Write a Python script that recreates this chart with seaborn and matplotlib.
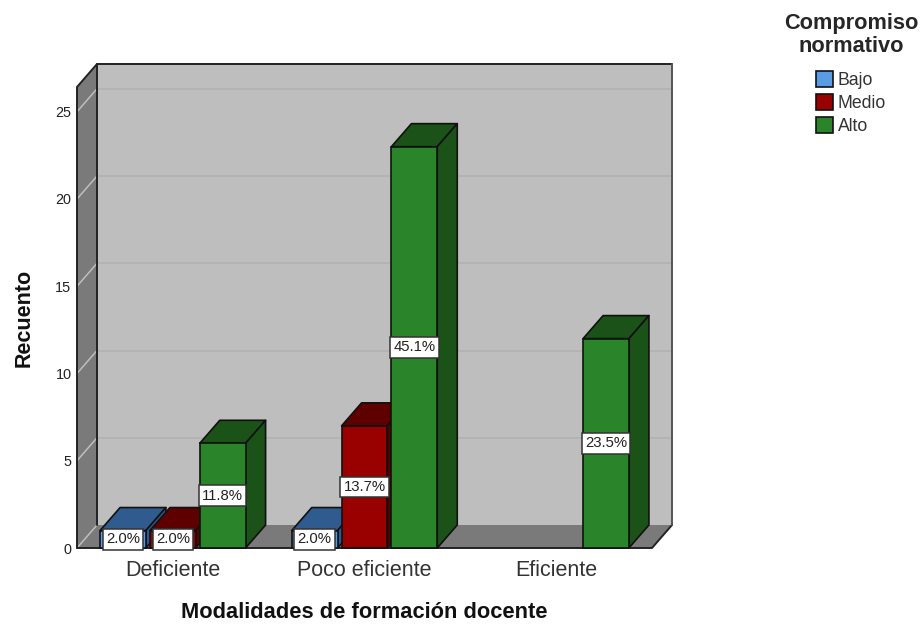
import matplotlib
matplotlib.use('Agg')
import matplotlib.pyplot as plt
import pandas as pd
import seaborn as sns
from matplotlib.patches import Polygon

# ============================================================
# DATA
# ============================================================
categories = ['Deficiente', 'Poco eficiente', 'Eficiente']
levels     = ['Bajo', 'Medio', 'Alto']

row_category = ['Deficiente', 'Deficiente', 'Deficiente',
                'Poco eficiente', 'Poco eficiente', 'Poco eficiente',
                'Eficiente']
row_level    = ['Bajo', 'Medio', 'Alto', 'Bajo', 'Medio', 'Alto', 'Alto']
row_count    = [1, 1, 6, 1, 7, 23, 12]
row_pct      = ['2.0%', '2.0%', '11.8%', '2.0%', '13.7%', '45.1%', '23.5%']

yticks = [0, 5, 10, 15, 20, 25]

front_colors = {'Bajo': '#5A9BE6', 'Medio': '#990000', 'Alto': '#2A852A'}
shade_colors = {'Bajo': '#2F5B8F', 'Medio': '#5E0000', 'Alto': '#1A5218'}

# ============================================================
# FIGURE
# ============================================================
sns.set_style('white')
plt.rcParams['font.family'] = ['Liberation Sans', 'DejaVu Sans']

W, H = 922, 624
fig = plt.figure(figsize=(W / 100, H / 100), dpi=100)
ax = fig.add_axes([77 / W, (H - 548) / H, 575 / W, 461 / H])
ax.patch.set_visible(False)

df = pd.DataFrame({'cat': row_category, 'level': row_level, 'count': row_count})
sns.barplot(data=df, x='cat', y='count', hue='level', order=categories,
            hue_order=levels, palette=front_colors, width=0.78, gap=0.08,
            edgecolor='#111111', linewidth=1.2, saturation=1, errorbar=None, ax=ax)

ax.set_xlim(-0.5, 2.5)
ax.set_ylim(0, 461 / 17.45)

# depth of the fake 3D, px converted to data units
DX = 20 / (575 / 3)
DY = 23 / 17.45
x0, x1 = -0.5, 2.5
ytop = 461 / 17.45


def poly(pts, fc, ec='none', lw=0, z=1):
    ax.add_patch(Polygon(pts, closed=True, facecolor=fc, edgecolor=ec, linewidth=lw,
                         zorder=z, clip_on=False, joinstyle='round'))


# walls and floor
poly([(x0 + DX, DY), (x1 + DX, DY), (x1 + DX, ytop + DY), (x0 + DX, ytop + DY)], '#BEBEBE')
poly([(x0, 0), (x0 + DX, DY), (x0 + DX, ytop + DY), (x0, ytop)], '#7A7A7A')
poly([(x0, 0), (x1, 0), (x1 + DX, DY), (x0 + DX, DY)], '#7A7A7A')

for t in yticks:
    ax.plot([x0, x0 + DX], [t, t + DY], color='#BEBEBE', lw=1.1, zorder=1.5, clip_on=False)
    if t > 0:
        ax.plot([x0 + DX, x1 + DX], [t + DY, t + DY], color='#B0B0B0', lw=1.1, zorder=1.5, clip_on=False)

edge = dict(color='#222222', lw=1.4, zorder=2, clip_on=False, solid_capstyle='round')
ax.plot([x0, x0, x0 + DX, x1 + DX], [0, ytop, ytop + DY, ytop + DY], **edge)
ax.plot([x0 + DX, x0 + DX], [DY, ytop + DY], **edge)
ax.plot([x0, x1, x1 + DX], [0, 0, DY], **edge)
ax.plot([x1 + DX, x1 + DX], [DY, ytop + DY], color='#555555', lw=1.4, zorder=2, clip_on=False)

# bar tops and sides, painted left to right so nearer bars overlap
bars = sorted([p for p in ax.patches if hasattr(p, 'get_width') and p.get_height() > 0],
              key=lambda p: p.get_x())
rows = sorted(zip(row_category, row_level, row_count, row_pct),
              key=lambda r: (categories.index(r[0]), levels.index(r[1])))
for i, (bar, row) in enumerate(zip(bars, rows)):
    z = 3 + i
    l, r, h = bar.get_x(), bar.get_x() + bar.get_width(), bar.get_height()
    bar.set_zorder(z + 0.5)
    bar.set_clip_on(False)
    shade = shade_colors[row[1]]
    poly([(l, h), (r, h), (r + DX, h + DY), (l + DX, h + DY)], shade, '#111111', 1.2, z)
    poly([(r, 0), (r + DX, DY), (r + DX, h + DY), (r, h)], shade, '#111111', 1.2, z)
    ax.text((l + r) / 2, h / 2, row[3], ha='center', va='center', fontsize=10.7,
            color='#222222', zorder=50,
            bbox=dict(boxstyle='square,pad=0.22', fc='white', ec='#333333', lw=1.1))

# ============================================================
# AXES TEXT
# ============================================================
sns.despine(ax=ax, left=True, bottom=True)
ax.set_yticks(yticks)
ax.tick_params(axis='y', length=0, pad=4, labelsize=10.4, labelcolor='#222222')
ax.tick_params(axis='x', length=0, pad=9, labelsize=15.5, labelcolor='#333333')
ax.set_xlabel('Modalidades de formación docente', fontsize=15.75, fontweight='bold',
              color='#111111', labelpad=15)
ax.set_ylabel('Recuento', fontsize=15.5, fontweight='bold', color='#111111', labelpad=15)

sns.move_legend(ax, 'upper center', bbox_to_anchor=(851 / W, 1 - 13 / H),
                bbox_transform=fig.transFigure, title='Compromiso\nnormativo',
                frameon=False, fontsize=12.7, handlelength=1, handleheight=1,
                labelspacing=0.28, handletextpad=0.25, borderpad=0, borderaxespad=0,
                title_fontproperties={'weight': 'bold', 'size': 15.7})
leg = ax.get_legend()
leg.set_alignment('center')
leg.get_title().set_multialignment('center')
leg.get_title().set_linespacing(1.1)
leg._legend_box.sep = 10.5
for txt in leg.get_texts():
    txt.set_color('#333333')

fig.savefig('out.png', dpi=100, facecolor='white')
